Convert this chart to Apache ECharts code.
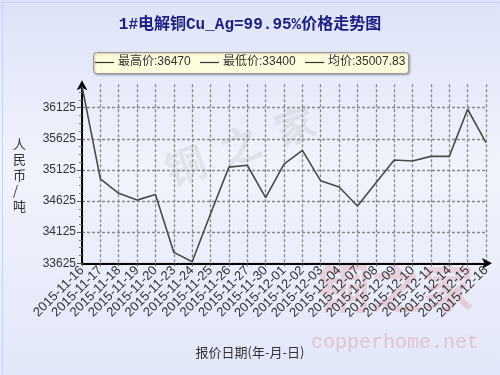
<!DOCTYPE html>
<html>
<head>
<meta charset="utf-8">
<script src="https://cdn.jsdelivr.net/npm/echarts@6/dist/echarts.min.js"></script>
<style>
html,body{margin:0;padding:0;}
#c{width:500px;height:375px;}
</style>
</head>
<body>
<div id="c"></div>
<script>
const titleText = '1#电解铜Cu_Ag=99.95%价格走势图';
const categories = ['2015-11-16','2015-11-17','2015-11-18','2015-11-19','2015-11-20','2015-11-23','2015-11-24','2015-11-25','2015-11-26','2015-11-27','2015-11-30','2015-12-01','2015-12-02','2015-12-03','2015-12-04','2015-12-07','2015-12-08','2015-12-09','2015-12-10','2015-12-11','2015-12-14','2015-12-15','2015-12-16'];
const prices = [36470,34980,34750,34640,34730,33800,33650,34420,35170,35200,34680,35220,35440,34950,34850,34545,34915,35285,35268,35343,35343,36100,35565];
const yTicks = [33625,34125,34625,35125,35625,36125];
const legendTexts = ['最高价:36470','最低价:33400','均价:35007.83'];
const yAxisName = '人民币/吨';
const xAxisName = '报价日期(年-月-日)';

const chart = echarts.init(document.getElementById('c'));
const legendStarts = [95, 200, 305];
const legendGraphics = [];
legendTexts.forEach((t, i) => {
  const x0 = legendStarts[i];
  legendGraphics.push({type: 'line', shape: {x1: x0, y1: 62.5, x2: x0 + 19, y2: 62.5}, style: {stroke: '#333', lineWidth: 1.2}});
  legendGraphics.push({type: 'text', left: x0 + 23, top: 56, style: {text: t, font: '12px "Liberation Sans", "Noto Sans CJK SC"', fill: '#333'}});
});
chart.setOption({
  animation: false,
  backgroundColor: {
    type: 'linear', x: 0, y: 0, x2: 0, y2: 1,
    colorStops: [
      {offset: 0, color: '#dde3f8'},
      {offset: 0.45, color: '#f1f3fc'},
      {offset: 1, color: '#e2e7f9'}
    ]
  },
  grid: {left: 82, right: 14, top: 84.35, bottom: 111.7, containLabel: false},
  graphic: [
    {type: 'rect', left: 0, top: 0, shape: {width: 499, height: 374}, style: {fill: 'none', stroke: '#c8d2ee', lineWidth: 1}, silent: true},
    {type: 'text', left: 'center', top: 17, style: {text: titleText, font: 'bold 16px "Liberation Mono", "Noto Sans CJK SC"', fill: '#1d1d86'}},
    {type: 'rect', left: 93, top: 52, shape: {width: 315, height: 21, r: 3},
      style: {fill: '#fdfcdc', stroke: '#9a9a9a', lineWidth: 1, shadowBlur: 2, shadowColor: 'rgba(0,0,0,0.3)', shadowOffsetX: 1, shadowOffsetY: 1}},
    ...legendGraphics,
    {type: 'text', left: 13, top: 136, style: {text: yAxisName.split('').join('\n'), font: '13px "Noto Sans CJK SC"', fill: '#333', lineHeight: 15.5}},
    {type: 'text', left: 'center', top: 346, style: {text: xAxisName, font: '13px "Noto Sans CJK SC"', fill: '#333'}},
    {type: 'text', left: 160, top: 100, rotation: 0.35, z: 0, style: {text: '铜  之  家', font: 'bold 40px "Noto Sans CJK SC"', fill: 'rgba(150,150,150,0.16)'}},
    {type: 'text', left: 318, top: 262, z: 0, style: {text: '铜之家', font: 'bold 52px "Noto Sans CJK SC"', fill: 'rgba(225,130,140,0.28)'}},
    {type: 'text', left: 311, top: 333, z: 0, style: {text: 'copperhome.net', font: '20px "Liberation Mono"', fill: 'rgba(220,120,130,0.35)'}}
  ],
  xAxis: {
    type: 'category',
    data: categories,
    boundaryGap: false,
    axisLine: {show: true, lineStyle: {color: '#000', width: 2}, symbol: ['none', 'arrow'], symbolSize: [8, 10], symbolOffset: [0, 6]},
    axisTick: {show: true, length: 3, lineStyle: {color: '#555'}},
    axisLabel: {rotate: 45, interval: 0, fontSize: 13, color: '#333', fontFamily: 'Liberation Sans', margin: 5},
    splitLine: {show: true, lineStyle: {color: '#888', type: [3, 2], width: 1.3}}
  },
  yAxis: {
    type: 'value',
    min: 33625,
    max: 36500,
    interval: 500,
    axisLine: {show: true, lineStyle: {color: '#000', width: 2}, symbol: ['none', 'arrow'], symbolSize: [8, 10], symbolOffset: [0, 4]},
    axisTick: {show: true, length: 5, lineStyle: {color: '#555'}, customValues: yTicks},
    minorTick: {show: true, splitNumber: 4, length: 3, lineStyle: {color: '#777'}},
    axisLabel: {fontSize: 12, color: '#333', fontFamily: 'Liberation Sans', margin: 6, customValues: yTicks, formatter: v => String(v)},
    splitLine: {show: true, lineStyle: {color: '#888', type: [3, 2], width: 1.3}}
  },
  series: [{
    type: 'line',
    data: prices,
    showSymbol: false,
    symbol: 'none',
    lineStyle: {color: '#4a4a4a', width: 1.6},
    z: 5
  }]
});
</script>
</body>
</html>
